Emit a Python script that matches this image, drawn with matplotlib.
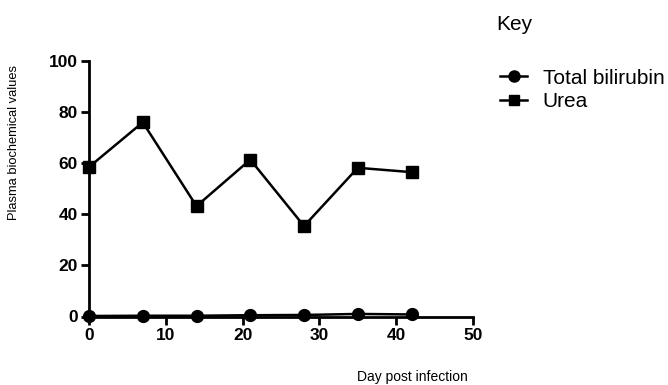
import matplotlib
matplotlib.use("Agg")
import matplotlib.pyplot as plt
from matplotlib.lines import Line2D

days = [0, 7, 14, 21, 28, 35, 42]
total_bilirubin = [0.2, 0.3, 0.3, 0.5, 0.6, 1.0, 0.8]
urea = [58.5, 76.0, 43.2, 61.4, 35.4, 58.2, 56.5]
x_ticks = [0, 10, 20, 30, 40, 50]
y_ticks = [0, 20, 40, 60, 80, 100]

plt.rcParams['font.family'] = ['Liberation Sans', 'DejaVu Sans']

fig = plt.figure(figsize=(6.68, 3.85), dpi=100)
W, H = 668, 385
left, right, top, bottom = 89, 473, 61, 316.5
ax = fig.add_axes([left / W, 1 - bottom / H, (right - left) / W, (bottom - top) / H])

ax.plot(days, total_bilirubin, color='black', lw=1.8, marker='o', ms=8.5, clip_on=False, zorder=3)
ax.plot(days, urea, color='black', lw=1.8, marker='s', ms=9, clip_on=False, zorder=3)

ax.set_xlim(0, 50)
ax.set_ylim(0, 100)
ax.set_xticks(x_ticks)
ax.set_yticks(y_ticks)
for s in ['top', 'right']:
    ax.spines[s].set_visible(False)
for s in ['left', 'bottom']:
    ax.spines[s].set_linewidth(2)
ax.tick_params(width=2, length=6, labelsize=12.5, pad=2)
for lab in ax.get_xticklabels() + ax.get_yticklabels():
    lab.set_fontweight('bold')

fig.text(14 / W, 1 - 142.5 / H, 'Plasma biochemical values', rotation=90, fontsize=9.3,
         ha='center', va='center')
fig.text(412 / W, 1 - 377.5 / H, 'Day post infection', fontsize=10, ha='center', va='center')

fig.text(496 / W, 1 - 25 / H, 'Key', fontsize=15, ha='left', va='center')
handles = [Line2D([], [], color='black', lw=1.8, marker='o', ms=8),
           Line2D([], [], color='black', lw=1.8, marker='s', ms=7.5)]
fig.legend(handles, ['Total bilirubin', 'Urea'], loc='upper left',
           bbox_to_anchor=(500 / W, 1 - 68.5 / H), frameon=False, fontsize=15,
           handlelength=1.3, handletextpad=0.75, labelspacing=0.22, borderaxespad=0,
           borderpad=0)

fig.savefig('out.png', dpi=100)
